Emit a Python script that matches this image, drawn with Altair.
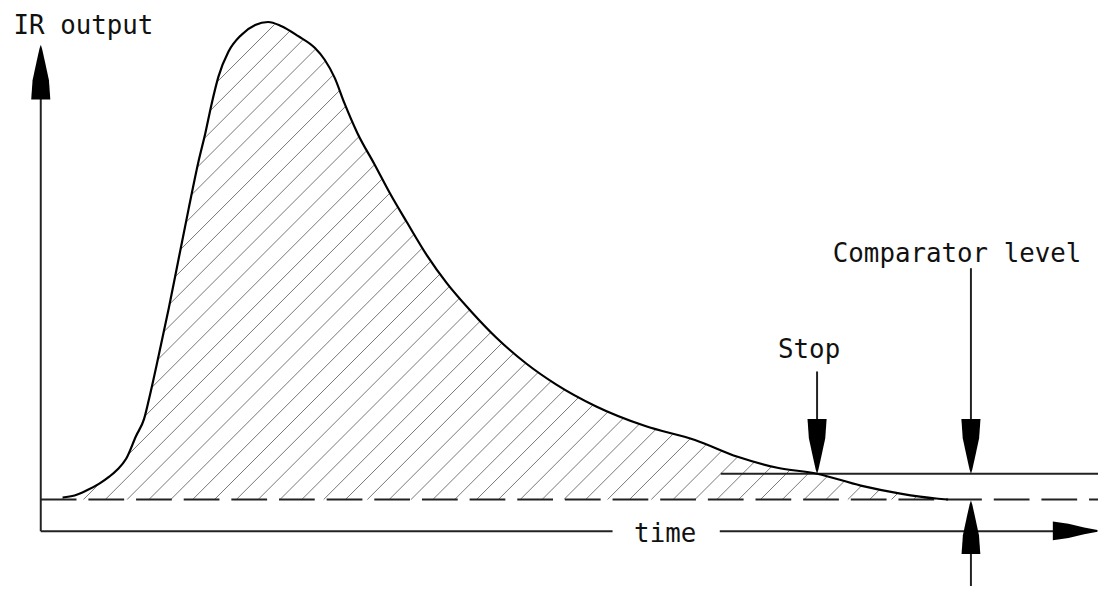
import altair as alt
import pandas as pd
import numpy as np

# ---- data (time on x, IR output above the baseline on y) ----
curve_t = [63, 75, 87, 100, 110, 118, 127, 137, 145, 150, 160, 170, 180, 190, 200,
           207, 213, 220, 230, 243, 257, 270, 283, 300, 317, 327, 337, 347, 360,
           377, 393, 410, 430, 450, 475, 500, 530, 560, 600, 650, 700, 743, 783,
           823, 867, 907, 943, 955]
curve_ir = [2, 4, 9, 16, 23, 30, 41, 64, 81, 101, 146, 193, 243, 293, 341,
            370, 398, 426, 451, 468, 478, 481, 477, 467, 455, 443, 425, 399, 369,
            338, 308, 279, 246, 218, 189, 163, 137, 116, 94, 74, 60, 43, 32,
            26, 14, 6, 1, 0]

baseline_ir = 0
comparator_ir = 26
time_axis_ir = -32
t_start, t_end = 41, 1106
stop_t = 823
comparator_t = 978

label_text = ["IR output", "Comparator level", "Stop", "time"]
label_t = [84, 964, 815, 670]
label_ir = [469, 239, 143, -43]

# solid line segments of the diagram
seg_t1 = [41, 41, 725, 726, stop_t, comparator_t, comparator_t]
seg_ir1 = [time_axis_ir, time_axis_ir, time_axis_ir, comparator_ir, 129, 233, -93]
seg_t2 = [41, 617, 1075, 1106, stop_t, comparator_t, comparator_t]
seg_ir2 = [431, time_axis_ir, time_axis_ir, comparator_ir, 71, 71, -39]

# arrow heads
arrow_t = [41, stop_t, comparator_t, comparator_t, 1083]
arrow_ir = [430.5, 53.5, 53.5, -28, -31.5]
arrow_kind = ["up", "down", "down", "up", "right"]
arrow_len = [55, 55, 55, 54, 45]

# ---- tables ----
curve_df = pd.DataFrame({"t": curve_t, "ir": curve_ir})

# hatch segments: 45-degree lines clipped to the area under the curve
hatch_rows = []
ct = np.array(curve_t, dtype=float)
ci = np.array(curve_ir, dtype=float)
for k in range(-20, 45):
    xb = 84 + 22 * k
    xs = np.arange(max(xb, ct[0]), min(xb + 520, ct[-1]), 0.25)
    if len(xs) < 2:
        continue
    yy = xs - xb
    cur = np.interp(xs, ct, ci)
    inside = (yy <= cur - 0.5) & (yy >= 0)
    idx = np.flatnonzero(inside)
    if len(idx) == 0:
        continue
    runs = np.split(idx, np.where(np.diff(idx) != 1)[0] + 1)
    for r in runs:
        if len(r) < 3:
            continue
        a, b = r[0], r[-1]
        hatch_rows.append({"t": xs[a], "ir": yy[a], "t2": xs[b], "ir2": yy[b]})
hatch_df = pd.DataFrame(hatch_rows)

seg_df = pd.DataFrame({"t": seg_t1, "ir": seg_ir1, "t2": seg_t2, "ir2": seg_ir2})
dash_df = pd.DataFrame({"t": [t_start], "ir": [baseline_ir], "t2": [t_end], "ir2": [baseline_ir]})
label_df = pd.DataFrame({"t": label_t, "ir": label_ir, "text": label_text})
arrow_df = pd.DataFrame({"t": arrow_t, "ir": arrow_ir, "kind": arrow_kind,
                         "size": [v * v for v in arrow_len]})

shape_paths = {
    "down": "M-0.35,-1L0.35,-1L0.3,-0.3L0.15,0.4L0.05,0.85L0,1L-0.05,0.85L-0.15,0.4L-0.3,-0.3Z",
    "up": "M-0.35,1L0.35,1L0.3,0.3L0.15,-0.4L0.05,-0.85L0,-1L-0.05,-0.85L-0.15,-0.4L-0.3,0.3Z",
    "right": "M-1,-0.42L-1,0.42L-0.3,0.32L0.4,0.15L1,0.04L1,-0.04L0.4,-0.15L-0.3,-0.32Z",
}

xs_scale = alt.Scale(domain=[8, 1106], nice=False, zero=False)
ys_scale = alt.Scale(domain=[-85, 493], nice=False, zero=False)
X = alt.X("t:Q", scale=xs_scale, axis=None)
Y = alt.Y("ir:Q", scale=ys_scale, axis=None)

hatch = alt.Chart(hatch_df).mark_rule(color="#777777", strokeWidth=1).encode(
    x=X, y=Y, x2="t2:Q", y2="ir2:Q")
dashed = alt.Chart(dash_df).mark_rule(color="#222", strokeWidth=2, strokeDash=[36, 12]).encode(
    x=X, y=Y, x2="t2:Q", y2="ir2:Q")
segs = alt.Chart(seg_df).mark_rule(color="#222", strokeWidth=2).encode(
    x=X, y=Y, x2="t2:Q", y2="ir2:Q")
curve = alt.Chart(curve_df).mark_line(color="black", strokeWidth=2.2, interpolate="monotone").encode(
    x=X, y=Y, order="t:Q")
arrows = alt.Chart(arrow_df).mark_point(filled=True, opacity=1, strokeWidth=0, color="black").encode(
    x=X, y=Y,
    shape=alt.Shape("kind:N", scale=alt.Scale(domain=list(shape_paths.keys()),
                                              range=list(shape_paths.values())), legend=None),
    size=alt.Size("size:Q", scale=None, legend=None))
labels = alt.Chart(label_df).mark_text(font="DejaVu Sans Mono", fontSize=26, color="#111",
                                       align="center", baseline="alphabetic").encode(
    x=X, y=Y, text="text:N")

chart = alt.layer(hatch, dashed, segs, curve, arrows, labels).properties(
    width=1098, height=578, padding=0, autosize="none", background="white"
).configure_view(stroke=None)

chart.save("out.html", embed_options={"renderer": "svg", "actions": False})
